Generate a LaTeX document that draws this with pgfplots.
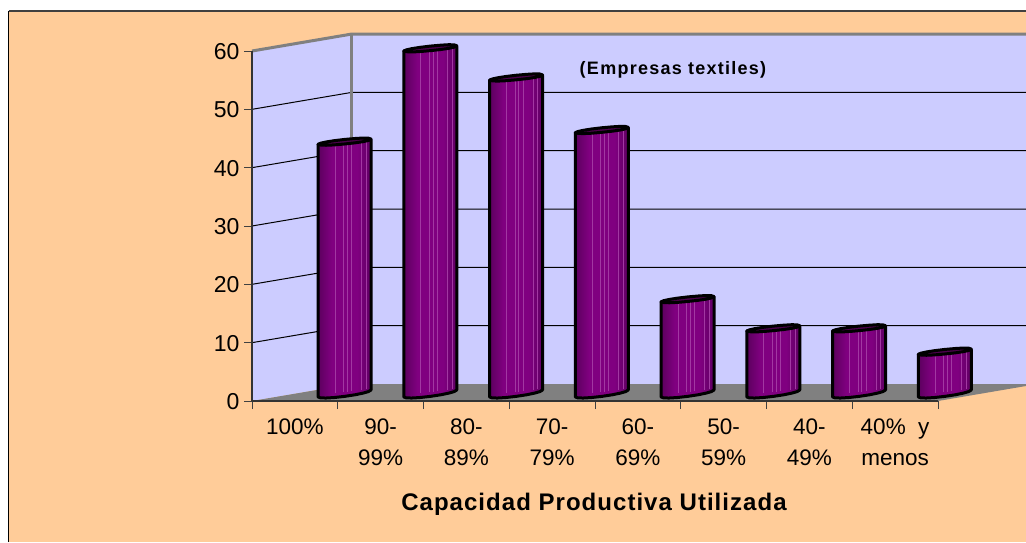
\documentclass[border=0pt]{standalone}
\usepackage{fontspec}
\setmainfont{Liberation Sans}
\usepackage{pgfplots}
\pgfplotsset{compat=1.18}
\definecolor{bgc}{HTML}{FFCC99}
\definecolor{wallc}{HTML}{CCCCFF}
\definecolor{floorc}{HTML}{808080}
\definecolor{stripe}{HTML}{A238A2}
\definecolor{cylD}{HTML}{5C005E}
\definecolor{cylM}{HTML}{800080}
\definecolor{cylR}{HTML}{5E0062}
\pgfdeclarehorizontalshading{cylsh}{100bp}{color(0bp)=(cylD); color(25bp)=(cylD); color(38bp)=(cylM); color(62bp)=(cylM); color(75bp)=(cylR); color(100bp)=(cylR)}
% one cylinder: #1 left edge on the x axis, #2 value
\newcommand{\cylbar}[2]{%
  \addplot[draw=black, line width=3pt, line join=round, shading=cylsh] coordinates {
    (#1,#2) (#1,0.69) (#1+0.031,0.53) (#1+0.093,0.51) (#1+0.185,0.59) (#1+0.309,0.79)
    (#1+0.433,1.07) (#1+0.525,1.35) (#1+0.587,1.61) (#1+0.618,1.89) (#1+0.618,#2+0.8)
  } -- cycle;
  \pgfplotsinvokeforeach{0.32,0.48,0.55,0.63,0.82,0.91}{
    \addplot[draw=stripe, line width=0.7pt] coordinates {(#1+##1*0.618,0.95+##1*1.2) (#1+##1*0.618,#2-0.5+##1*1.0)};
  }
  \addplot[draw=black, fill=cylM!60!black, line width=3pt, line join=round] coordinates {
    (#1,#2) (#1+0.031,#2+0.2) (#1+0.093,#2+0.4) (#1+0.185,#2+0.62) (#1+0.309,#2+0.84)
    (#1+0.433,#2+1.0) (#1+0.525,#2+1.08) (#1+0.587,#2+1.06) (#1+0.618,#2+0.9)
    (#1+0.587,#2+0.66) (#1+0.525,#2+0.46) (#1+0.433,#2+0.26) (#1+0.309,#2+0.06)
    (#1+0.185,#2-0.1) (#1+0.093,#2-0.16) (#1+0.031,#2-0.12)
  } -- cycle;
}
\begin{document}
\begin{tikzpicture}[x=1pt,y=1pt]
\useasboundingbox (0,0) rectangle (1026,542);
\fill[white] (0,0) rectangle (1026,542);
\fill[bgc] (8.5,0) rectangle (1026,531);
\draw[black, line width=1.5pt] (8.5,0) -- (8.5,531);
\draw[black!75, line width=1.5pt] (8.5,531) -- (1026,531);
\begin{axis}[
    at={(252pt,141pt)}, anchor=origin,
    scale only axis, width=686pt, height=350pt,
    xmin=0, xmax=8, ymin=0, ymax=60,
    clip=false, axis on top,
    axis x line*=bottom, axis y line*=left,
    axis line style={black!80, line width=1.3pt},
    tick align=outside, major tick length=8pt,
    tick style={black!75, line width=1pt},
    xtick={0,...,8},
    x tick label as interval,
    xticklabels={100\%, {90-\\99\%}, {80-\\89\%}, {70-\\79\%}, {60-\\69\%}, {50-\\59\%}, {40-\\49\%}, {40\%\ \ y\\menos}},
    xticklabel style={font=\fontsize{22.5}{31}\selectfont, align=center, anchor=north, yshift=-6pt},
    ytick={0,10,...,60},
    yticklabel style={font=\fontsize{23}{26}\selectfont, /pgf/number format/assume math mode=true, xshift=-1pt, yshift=-0.5pt},
    title={(Empresas textiles)},
    title style={at={(0.6137,0.954)}, anchor=center, yshift=-8.5pt, font=\fontsize{18}{21}\selectfont\bfseries\addfontfeature{LetterSpace=7}},
    xlabel={Capacidad Productiva Utilizada},
    xlabel style={at={(0.4985,-0.296)}, anchor=center, font=\fontsize{24}{28}\selectfont\bfseries\addfontfeature{LetterSpace=4.3}},
    no markers,
]
% walls and floor
\addplot[fill=wallc, draw=none] coordinates {(0,0) (1.166,2.914) (1.166,62.914) (0,60)} -- cycle;
\addplot[fill=wallc, draw=none] coordinates {(1.166,2.914) (9.026,2.914) (9.026,62.914) (1.166,62.914)} -- cycle;
\addplot[fill=floorc, draw=none] coordinates {(0,0) (1.166,2.914) (9.026,2.914) (9.026,2.57) (8,0)} -- cycle;
\pgfplotsinvokeforeach{10,20,30,40,50}{
  \addplot[black, line width=1pt] coordinates {(0,#1) (1.166,#1+2.914) (9.026,#1+2.914)};
}
\addplot[floorc, line width=3pt] coordinates {(0,60) (1.166,62.914) (9.026,62.914)};
\addplot[floorc, line width=3pt] coordinates {(1.166,62.914) (1.166,2.914)};
% cylinders
\cylbar{0.77}{44}
\cylbar{1.77}{60}
\cylbar{2.77}{55}
\cylbar{3.77}{46}
\cylbar{4.77}{17}
\cylbar{5.77}{12}
\cylbar{6.77}{12}
\cylbar{7.77}{8}
\end{axis}
\end{tikzpicture}
\end{document}
